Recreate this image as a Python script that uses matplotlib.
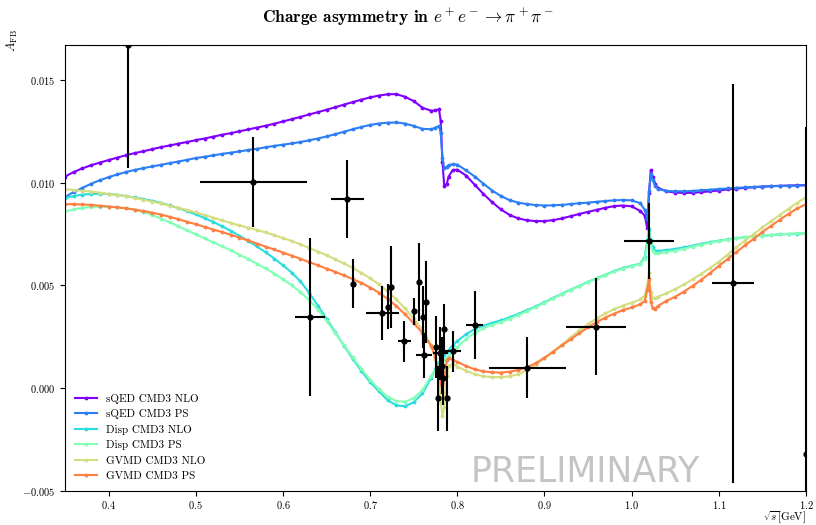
import numpy as np
import matplotlib
matplotlib.use("Agg")
import matplotlib.pyplot as plt

plt.rcParams.update({
    "font.family": "serif",
    "font.serif": ["cmr10"],
    "mathtext.fontset": "cm",
    "axes.formatter.use_mathtext": True,
    "axes.unicode_minus": True,
})

# sqrt(s) grid of the model curves [GeV]
energy = [0.35, 0.36, 0.37, 0.38, 0.39, 0.40, 0.41, 0.42, 0.43, 0.44,
          0.45, 0.46, 0.47, 0.48, 0.49, 0.50, 0.51, 0.52, 0.53, 0.54,
          0.55, 0.56, 0.57, 0.58, 0.59, 0.60, 0.61, 0.62, 0.63, 0.64,
          0.65, 0.66, 0.67, 0.68, 0.69, 0.70, 0.71, 0.72, 0.73, 0.74,
          0.75, 0.76,
          0.77, 0.775, 0.779, 0.781, 0.783, 0.785, 0.788, 0.79, 0.795, 0.80,
          0.81, 0.82, 0.83, 0.84, 0.85, 0.86, 0.87, 0.88, 0.89, 0.90,
          0.91, 0.92, 0.93, 0.94, 0.95, 0.96, 0.97, 0.98, 0.99, 1.00,
          1.01, 1.015, 1.018, 1.020, 1.022, 1.024, 1.027, 1.03,
          1.04, 1.05, 1.06, 1.07, 1.08, 1.09, 1.10, 1.11, 1.12, 1.13,
          1.14, 1.15, 1.16, 1.17, 1.18, 1.19, 1.20]

# A_FB predictions, in units of 1e-3
sqed_nlo = [10.30, 10.52, 10.70, 10.85, 10.98, 11.10, 11.22, 11.34, 11.44, 11.53,
            11.63, 11.73, 11.81, 11.90, 11.98, 12.07, 12.15, 12.24, 12.33, 12.41,
            12.50, 12.59, 12.68, 12.77, 12.87, 12.98, 13.09, 13.20, 13.32, 13.43,
            13.55, 13.67, 13.80, 13.92, 14.04, 14.15, 14.24, 14.30, 14.31, 14.18,
            13.97, 13.65,
            13.50, 13.52, 13.57, 13.00, 11.00, 9.85, 9.95, 10.30, 10.62, 10.63,
            10.35, 9.90, 9.45, 9.05, 8.70, 8.43, 8.26, 8.17, 8.13, 8.13,
            8.18, 8.26, 8.37, 8.48, 8.58, 8.68, 8.78, 8.86, 8.89, 8.85,
            8.62, 8.40, 7.78, 9.50, 10.62, 10.30, 9.95, 9.75,
            9.58, 9.52, 9.50, 9.51, 9.54, 9.58, 9.62, 9.67, 9.71, 9.75,
            9.78, 9.81, 9.83, 9.85, 9.86, 9.87, 9.88]
sqed_ps = [9.30, 9.55, 9.75, 9.95, 10.12, 10.27, 10.40, 10.52, 10.62, 10.71,
           10.79, 10.87, 10.95, 11.03, 11.11, 11.20, 11.26, 11.33, 11.40, 11.46,
           11.52, 11.59, 11.65, 11.72, 11.79, 11.85, 11.91, 11.98, 12.06, 12.15,
           12.25, 12.36, 12.48, 12.60, 12.71, 12.81, 12.88, 12.92, 12.93, 12.88,
           12.76, 12.62,
           12.60, 12.68, 12.76, 12.40, 11.20, 10.70, 10.78, 10.85, 10.90, 10.88,
           10.60, 10.30, 9.95, 9.62, 9.35, 9.15, 9.03, 8.96, 8.91, 8.89,
           8.90, 8.92, 8.96, 9.00, 9.03, 9.07, 9.11, 9.14, 9.16, 9.14,
           9.00, 8.68, 8.25, 9.60, 10.40, 10.15, 9.85, 9.70,
           9.60, 9.58, 9.58, 9.60, 9.63, 9.66, 9.69, 9.72, 9.75, 9.77,
           9.79, 9.81, 9.83, 9.84, 9.85, 9.86, 9.87]
disp_nlo = [9.25, 9.35, 9.42, 9.45, 9.46, 9.45, 9.41, 9.35, 9.28, 9.20,
            9.12, 9.02, 8.90, 8.76, 8.62, 8.46, 8.28, 8.09, 7.88, 7.66,
            7.42, 7.17, 6.90, 6.62, 6.31, 5.98, 5.63, 5.20, 4.65, 4.02,
            3.38, 2.72, 2.07, 1.43, 0.83, 0.30, -0.15, -0.58, -0.83, -0.88,
            -0.68, -0.25,
            0.50, 0.95, 1.25, 1.38, 1.50, 1.60, 1.75, 1.85, 2.10, 2.30,
            2.62, 2.88, 3.05, 3.18, 3.30, 3.45, 3.62, 3.80, 3.98, 4.18,
            4.40, 4.60, 4.80, 4.98, 5.18, 5.35, 5.53, 5.70, 5.85, 5.96,
            6.06, 6.40, 7.20, 7.75, 7.20, 6.85, 6.70, 6.68,
            6.72, 6.78, 6.85, 6.94, 7.03, 7.11, 7.18, 7.24, 7.30, 7.35,
            7.39, 7.42, 7.45, 7.48, 7.50, 7.52, 7.54]
disp_ps = [8.60, 8.70, 8.78, 8.82, 8.83, 8.82, 8.80, 8.76, 8.68, 8.57,
           8.44, 8.25, 8.07, 7.88, 7.68, 7.48, 7.29, 7.10, 6.91, 6.71,
           6.50, 6.28, 6.06, 5.83, 5.58, 5.30, 5.01, 4.67, 4.30, 3.83,
           3.28, 2.68, 2.10, 1.50, 0.93, 0.40, -0.05, -0.42, -0.62, -0.66,
           -0.48, -0.10,
           0.60, 0.90, 1.10, 1.20, 1.28, 1.35, 1.48, 1.55, 1.78, 2.00,
           2.40, 2.70, 2.92, 3.08, 3.22, 3.38, 3.56, 3.75, 3.95, 4.15,
           4.37, 4.58, 4.78, 4.97, 5.16, 5.34, 5.51, 5.68, 5.82, 5.94,
           6.04, 6.30, 7.00, 7.60, 7.05, 6.70, 6.57, 6.56,
           6.62, 6.70, 6.79, 6.89, 6.99, 7.08, 7.16, 7.23, 7.29, 7.34,
           7.39, 7.43, 7.46, 7.49, 7.51, 7.53, 7.55]
gvmd_nlo = [9.68, 9.65, 9.60, 9.57, 9.51, 9.45, 9.40, 9.35, 9.26, 9.17,
            9.08, 8.99, 8.89, 8.78, 8.67, 8.55, 8.43, 8.30, 8.17, 8.04,
            7.92, 7.81, 7.70, 7.58, 7.45, 7.31, 7.16, 7.00, 6.83, 6.65,
            6.47, 6.27, 6.07, 5.85, 5.61, 5.35, 5.06, 4.72, 4.32, 3.88,
            3.38, 2.85,
            2.10, 1.40, 0.20, -0.70, -1.35, -0.90, 0.60, 1.10, 1.18, 1.05,
            0.85, 0.68, 0.58, 0.54, 0.54, 0.58, 0.68, 0.88, 1.15, 1.45,
            1.78, 2.12, 2.47, 2.81, 3.12, 3.40, 3.64, 3.85, 4.02, 4.16,
            4.32, 4.50, 5.00, 5.60, 4.70, 4.40, 4.38, 4.45,
            4.62, 4.82, 5.05, 5.30, 5.57, 5.85, 6.15, 6.50, 6.85, 7.18,
            7.50, 7.82, 8.13, 8.43, 8.73, 9.02, 9.30]
gvmd_ps = [8.96, 8.95, 8.94, 8.92, 8.88, 8.84, 8.80, 8.75, 8.69, 8.62,
           8.54, 8.45, 8.34, 8.22, 8.10, 7.98, 7.85, 7.72, 7.60, 7.47,
           7.33, 7.19, 7.04, 6.89, 6.75, 6.60, 6.45, 6.30, 6.14, 5.98,
           5.82, 5.66, 5.49, 5.31, 5.12, 4.90, 4.65, 4.35, 4.00, 3.60,
           3.16, 2.70,
           2.05, 1.50, 0.80, 0.30, -0.20, 0.50, 1.35, 1.45, 1.38, 1.28,
           1.08, 0.92, 0.82, 0.77, 0.76, 0.80, 0.89, 1.02, 1.22, 1.48,
           1.78, 2.08, 2.38, 2.68, 2.96, 3.22, 3.44, 3.63, 3.80, 3.93,
           4.08, 4.25, 4.80, 5.30, 4.20, 3.90, 3.86, 4.00,
           4.25, 4.45, 4.70, 4.98, 5.28, 5.60, 5.95, 6.28, 6.62, 6.95,
           7.27, 7.60, 7.90, 8.20, 8.48, 8.75, 8.95]

model_labels = ["sQED CMD3 NLO", "sQED CMD3 PS", "Disp CMD3 NLO",
                "Disp CMD3 PS", "GVMD CMD3 NLO", "GVMD CMD3 PS"]

# CMD-3 measurement
cmd3_s = [0.422, 0.566, 0.674, 0.631, 0.680, 0.714, 0.721, 0.724, 0.739, 0.750,
          0.756, 0.761, 0.764, 0.762, 0.7756, 0.7783, 0.7806, 0.7820, 0.7837, 0.7852,
          0.7880, 0.7950, 0.8198, 0.8802, 0.9592, 1.0199, 1.1164, 1.200]
cmd3_afb = [0.01670, 0.01003, 0.00921, 0.00348, 0.00509, 0.00365, 0.00396, 0.00491, 0.00228, 0.00374,
            0.00516, 0.00347, 0.00418, 0.00160, 0.00200, -0.00050, 0.00170, 0.00110, 0.00050, 0.00290,
            -0.00050, 0.00180, 0.00306, 0.00100, 0.00300, 0.00716, 0.00511, -0.00321]
cmd3_serr = [0.0435, 0.0616, 0.0191, 0.0170, 0.0, 0.0187, 0.0, 0.0, 0.0075, 0.0,
             0.0, 0.0, 0.0, 0.0090, 0.0, 0.0, 0.0086, 0.0, 0.0, 0.0,
             0.0, 0.0090, 0.0097, 0.0443, 0.0341, 0.0292, 0.0244, 0.0]
cmd3_aerr = [0.0060, 0.0022, 0.0019, 0.00385, 0.0012, 0.0013, 0.0011, 0.0020, 0.0010, 0.00066,
             0.0019, 0.0015, 0.0020, 0.0011, 0.0015, 0.0016, 0.0013, 0.0014, 0.0013, 0.0012,
             0.0016, 0.0010, 0.00166, 0.00148, 0.00238, 0.00184, 0.0097, 0.0159]

fig = plt.figure(figsize=(8.16, 5.25), dpi=100)
ax = fig.add_axes([0.0797, 0.0648, 0.908, 0.8495])

colors = plt.cm.rainbow(np.linspace(0, 1, 7))[:6]
models = [sqed_nlo, sqed_ps, disp_nlo, disp_ps, gvmd_nlo, gvmd_ps]
for vals, lab, c in zip(models, model_labels, colors):
    ax.plot(energy, np.array(vals) * 1e-3, marker=".", ms=3.5, lw=1.5,
            color=c, label=lab)

ax.errorbar(cmd3_s, cmd3_afb, xerr=cmd3_serr, yerr=cmd3_aerr, fmt="o",
            color="k", ms=3.5, elinewidth=1.5, capsize=0, zorder=5)

ax.set_xlim(0.35, 1.2)
ax.set_ylim(-0.005, 0.0167)
ax.set_yticks([-0.005, 0.0, 0.005, 0.010, 0.015])
ax.tick_params(labelsize=7.5, length=3.5)
ax.tick_params(axis="x", pad=2)

ax.legend(loc="lower left", frameon=False, fontsize=8)
ax.text(0.702, 0.021, "PRELIMINARY", transform=ax.transAxes, ha="center",
        va="baseline", fontsize=25, color="#c4c4c4", family="DejaVu Sans")

fig.text(0.5, 0.968, r"Charge asymmetry in $e^+e^-\to\pi^+\pi^-$",
         ha="center", va="center", fontsize=12.5, family="cmb10")
fig.text(12 / 816, 1 - 41 / 525, r"$A_{\rm FB}$", rotation=90,
         ha="center", va="center", fontsize=9)
fig.text(806 / 816, 1 - 518 / 525, r"$\sqrt{s}$[GeV]", ha="right",
         va="center", fontsize=8)

fig.savefig("out.png", dpi=100)
